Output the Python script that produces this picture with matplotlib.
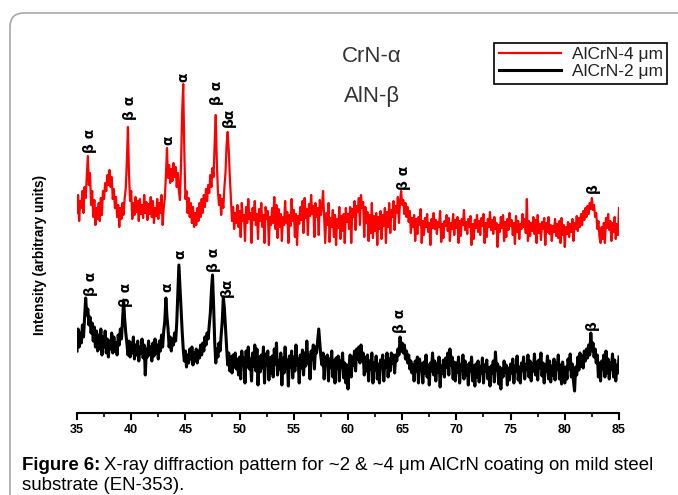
import numpy as np
import matplotlib.pyplot as plt
from matplotlib.patches import FancyBboxPatch
from matplotlib.transforms import IdentityTransform

plt.rcParams['font.family'] = ['Liberation Sans', 'DejaVu Sans']

# skan 2theta: 35-85 st., krok 0.1
start, stop, krok = 35.0, 85.0, 0.1
two_theta = np.round(np.arange(start, stop + krok / 2, krok), 1)

# AlCrN-4 um (czerwony), intensywnosc w jednostkach umownych
alcrn_4 = [
    200, 218, 192, 212, 205, 222, 200, 226, 215, 235,
    257, 228, 240, 208, 222, 196, 213, 188, 205, 194,
    210, 192, 215, 198, 222, 214, 230, 222, 238, 228,
    243, 226, 236, 214, 224, 205, 216, 196, 208, 186,
    205, 194, 210, 198, 215, 225, 252, 286, 238, 212,
    222, 194, 210, 198, 216, 201, 212, 192, 214, 199,
    208, 195, 218, 200, 211, 193, 209, 199, 216, 196,
    212, 190, 205, 197, 214, 194, 210, 200, 218, 188,
    205, 215, 236, 265, 235, 248, 230, 244, 232, 250,
    236, 246, 226, 240, 222, 213, 250, 300, 329, 262,
    214, 222, 200, 215, 196, 210, 190, 206, 186, 200,
    188, 205, 192, 210, 196, 214, 200, 218, 206, 224,
    212, 228, 220, 238, 226, 245, 236, 270, 298, 250,
    222, 208, 218, 198, 214, 205, 226, 240, 268, 281,
    262, 236, 214, 192, 206, 184, 200, 190, 208, 186,
    202, 176, 210, 192, 198, 172, 206, 190, 214, 194,
    200, 170, 205, 193, 212, 188, 199, 174, 204, 192,
    210, 186, 198, 170, 206, 194, 202, 168, 196, 188,
    205, 190, 216, 184, 208, 175, 204, 186, 199, 172,
    196, 188, 212, 190, 201, 170, 198, 187, 214, 192,
    203, 176, 199, 168, 197, 189, 206, 193, 212, 180,
    215, 195, 204, 178, 209, 197, 218, 199, 207, 176,
    210, 196, 205, 178, 213, 198, 206, 222, 196, 170,
    200, 188, 210, 171, 195, 186, 203, 176, 198, 168,
    194, 185, 206, 174, 197, 182, 199, 170, 205, 191,
    199, 184, 206, 170, 204, 196, 212, 183, 207, 201,
    215, 188, 218, 205, 211, 176, 206, 190, 201, 172,
    198, 180, 210, 175, 197, 182, 200, 168, 196, 184,
    202, 174, 198, 187, 205, 170, 201, 186, 210, 180,
    203, 196, 212, 183, 207, 200, 216, 190, 211, 222,
    208, 213, 199, 210, 196, 206, 191, 202, 180, 195,
    186, 198, 172, 194, 179, 196, 188, 204, 170, 192,
    178, 195, 186, 199, 181, 190, 168, 194, 185, 200,
    184, 193, 179, 191, 186, 202, 171, 189, 175, 192,
    187, 198, 182, 195, 172, 190, 184, 199, 178, 193,
    185, 196, 170, 192, 177, 194, 188, 203, 183, 191,
    179, 194, 186, 197, 168, 189, 174, 193, 185, 198,
    181, 192, 178, 195, 187, 199, 170, 190, 176, 194,
    186, 201, 183, 193, 179, 196, 184, 190, 166, 188,
    181, 196, 185, 198, 172, 191, 176, 194, 183, 200,
    187, 193, 178, 190, 169, 197, 181, 192, 174, 189,
    184, 199, 186, 194, 180, 214, 172, 192, 177, 190,
    182, 196, 179, 193, 170, 198, 180, 189, 173, 191,
    184, 195, 168, 190, 181, 196, 179, 188, 172, 187,
    181, 194, 177, 189, 175, 192, 170, 195, 178, 188,
    166, 186, 179, 191, 176, 189, 181, 194, 172, 190,
    184, 197, 182, 195, 186, 199, 188, 202, 193, 205,
    196, 207, 199, 210, 204, 215, 203, 208, 196, 200,
    184, 192, 176, 170, 186, 174, 190, 170, 195, 185,
    199, 183, 192, 172, 190, 181, 196, 174, 189, 178,
    205,
]

# AlCrN-2 um (czarny)
alcrn_2 = [
    62, 84, 66, 80, 70, 88, 76, 96, 115, 98,
    104, 88, 96, 80, 90, 72, 86, 66, 82, 62,
    78, 64, 84, 58, 76, 66, 82, 60, 74, 56,
    72, 64, 80, 60, 76, 62, 70, 58, 78, 68,
    84, 74, 92, 113, 94, 80, 70, 58, 72, 56,
    70, 60, 76, 54, 68, 58, 72, 52, 66, 60,
    74, 55, 68, 38, 64, 56, 72, 58, 66, 52,
    70, 57, 74, 60, 68, 54, 72, 62, 78, 66,
    82, 92, 115, 96, 84, 66, 76, 62, 74, 68,
    80, 72, 90, 118, 148, 126, 104, 82, 64, 52,
    62, 46, 58, 50, 64, 54, 66, 48, 60, 52,
    64, 50, 62, 55, 68, 58, 70, 62, 76, 68,
    80, 74, 88, 100, 122, 138, 108, 72, 50, 64,
    56, 70, 62, 78, 92, 116, 104, 84, 66, 48,
    60, 42, 56, 40, 58, 46, 60, 44, 54, 38,
    56, 34, 62, 48, 55, 30, 62, 46, 66, 44,
    54, 32, 60, 47, 68, 42, 64, 28, 56, 41,
    58, 45, 66, 30, 59, 48, 62, 33, 55, 40,
    57, 36, 64, 49, 70, 38, 52, 44, 60, 28,
    55, 40, 66, 45, 53, 27, 57, 46, 62, 35,
    56, 42, 68, 48, 54, 30, 58, 45, 63, 38,
    60, 47, 72, 50, 58, 34, 62, 54, 68, 44,
    66, 60, 72, 84, 70, 56, 48, 60, 34, 56,
    50, 58, 32, 54, 46, 62, 36, 52, 30, 55,
    45, 57, 32, 52, 46, 60, 35, 50, 30, 48,
    24, 46, 58, 36, 56, 48, 62, 42, 64, 54,
    66, 50, 68, 52, 60, 38, 56, 42, 58, 32,
    52, 44, 60, 30, 50, 43, 57, 34, 49, 30,
    53, 45, 58, 32, 52, 46, 60, 36, 54, 42,
    60, 50, 58, 40, 58, 52, 64, 58, 76, 62,
    70, 60, 68, 54, 62, 50, 58, 44, 52, 40,
    48, 32, 52, 42, 56, 30, 54, 44, 49, 30,
    51, 40, 58, 36, 48, 28, 50, 42, 60, 38,
    52, 32, 49, 41, 56, 26, 47, 40, 53, 36,
    55, 46, 60, 38, 64, 48, 56, 34, 51, 32,
    50, 41, 56, 30, 48, 43, 58, 34, 52, 38,
    48, 28, 50, 42, 56, 32, 47, 27, 49, 36,
    52, 31, 46, 40, 55, 30, 48, 42, 53, 34,
    45, 27, 47, 40, 52, 31, 61, 43, 49, 29,
    46, 24, 44, 36, 52, 41, 48, 28, 45, 33,
    49, 40, 54, 30, 47, 42, 57, 33, 46, 30,
    50, 43, 56, 34, 48, 44, 58, 36, 52, 32,
    49, 42, 59, 38, 51, 33, 53, 45, 60, 37,
    50, 30, 48, 42, 57, 34, 52, 31, 47, 38,
    54, 33, 50, 44, 58, 34, 48, 29, 51, 40,
    30, 46, 34, 54, 44, 59, 36, 49, 32, 22,
    46, 38, 56, 43, 60, 47, 57, 45, 62, 52,
    64, 55, 68, 58, 80, 62, 70, 56, 64, 50,
    58, 36, 50, 32, 52, 44, 58, 36, 62, 40,
    54, 34, 50, 44, 59, 36, 53, 32, 48, 40,
    56,
]

# opisy refleksow: tekst, 2theta, wysokosc podstawy napisu
opis_4 = ['β α', 'β α', 'α', 'α', 'β α', 'βα', 'β α', 'β']
opis_4_x = [36.2, 39.9, 43.4, 44.85, 47.9, 49.0, 65.2, 82.6]
opis_4_y = [260, 293, 268, 331, 308, 286, 223, 220]

opis_2 = ['β α', 'β α', 'α', 'α', 'β α', 'βα', 'β α', 'β']
opis_2_x = [36.3, 39.5, 43.3, 44.5, 47.6, 48.8, 64.8, 82.5]
opis_2_y = [117, 106, 121, 154, 141, 116, 80, 83]

fazy = ['CrN-α', 'AlN-β']

fig = plt.figure(figsize=(6.78, 4.95), dpi=100)
ax = fig.add_axes([77 / 678, 82 / 495, 542 / 678, 385 / 495])

ax.plot(two_theta, alcrn_4, color='#ff0000', lw=1.6, label='AlCrN-4 μm')
ax.plot(two_theta, alcrn_2, color='black', lw=2.2, label='AlCrN-2 μm')

for t, x, y in zip(opis_4, opis_4_x, opis_4_y):
    ax.text(x, y, t, rotation=90, ha='center', va='bottom', fontsize=10,
            fontweight='bold', family=['DejaVu Sans'])
for t, x, y in zip(opis_2, opis_2_x, opis_2_y):
    ax.text(x, y, t, rotation=90, ha='center', va='bottom', fontsize=10,
            fontweight='bold', family=['DejaVu Sans'])

ax.text(62.2, 356, fazy[0], ha='center', va='center', fontsize=16, color='#333333')
ax.text(62.2, 316, fazy[1], ha='center', va='center', fontsize=16, color='#333333')

ax.set_xlim(35, 85)
ax.set_ylim(0, 385)
ax.set_xticks(np.arange(35, 86, 5))
ax.set_xticks(np.arange(37.5, 85, 5), minor=True)
ax.set_yticks([])
for s in ['left', 'right', 'top']:
    ax.spines[s].set_visible(False)
ax.spines['bottom'].set_linewidth(1.5)
ax.tick_params(axis='x', which='major', direction='out', length=5, width=1.5, pad=3)
ax.tick_params(axis='x', which='minor', direction='out', length=3, width=1.2)
for lab in ax.get_xticklabels():
    lab.set_fontweight('bold')
    lab.set_fontsize(9)

leg = ax.legend(loc='upper right', bbox_to_anchor=(667 / 678, 1 - 43 / 495),
                bbox_transform=fig.transFigure, borderaxespad=0, fontsize=12.5,
                fancybox=False, framealpha=1, edgecolor='black', handlelength=3.6,
                borderpad=0.25, labelspacing=0.1, handletextpad=0.6)
leg.get_frame().set_linewidth(1.2)
for t in leg.get_texts():
    t.set_color('#222222')

fig.text(40 / 678, 1 - 255 / 495, 'Intensity (arbitrary units)', rotation=90, ha='center',
         va='center', fontsize=9.8, fontweight='bold')

# ramka z zaokraglonym rogiem
ramka = FancyBboxPatch((10, -40), 720, 482 + 40, boxstyle='round,pad=0,rounding_size=14',
                       transform=IdentityTransform(), fill=False, edgecolor='#a8a8a8', lw=1.2)
fig.add_artist(ramka)

# podpis
r = fig.canvas.get_renderer()
t1 = fig.text(22 / 678, 1 - 465 / 495, 'Figure 6:', fontsize=13.4, fontweight='bold',
              va='center')
w = t1.get_window_extent(renderer=r).width
fig.text(22 / 678 + (w + 4) / 678, 1 - 465 / 495,
         'X-ray diffraction pattern for ~2 & ~4 μm AlCrN coating on mild steel',
         fontsize=13.4, va='center')
fig.text(22 / 678, 1 - 485 / 495, 'substrate (EN-353).', fontsize=13.4, va='center')

fig.savefig('out.png', dpi=100)
